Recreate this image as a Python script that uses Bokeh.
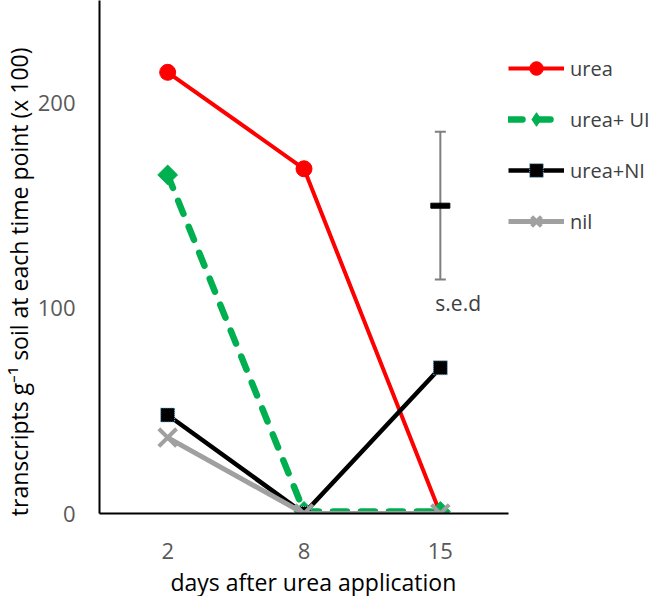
import math
from bokeh.plotting import figure
from bokeh.models import FactorRange, Range1d, FixedTicker, Legend, LegendItem, Title
from bokeh.core.properties import value
from bokeh.embed import file_html
from bokeh.resources import INLINE

# ---- data ----
days = ["2", "8", "15"]
urea = [215, 168, 0]
urea_ui = [165, 1, 1]
urea_ni = [48, 0, 71]
nil = [37, 0, 0]
series_names = ["urea", "urea+ UI", "urea+NI", "nil"]
sed_day = ["15"]
sed_mean = [150]
sed_half = [36]
y_ticks = [0, 100, 200]

FONT = "Open Sans"
RED, GREEN, BLACK, GREY = "#FF0000", "#00B050", "#000000", "#A0A0A0"

p = figure(x_range=FactorRange(factors=days), y_range=Range1d(0, 250),
           frame_width=409, frame_height=513,
           min_border_left=99, min_border_right=144, min_border_top=0, min_border_bottom=83,
           output_backend="svg", toolbar_location=None)
p.outline_line_color = None
p.xgrid.visible = False
p.ygrid.visible = False
p.background_fill_color = "white"
p.border_fill_color = "white"

for ax in (p.xaxis, p.yaxis):
    ax.axis_line_color = "black"
    ax.axis_line_width = 2
    ax.major_tick_line_color = None
    ax.minor_tick_line_color = None
    ax.major_tick_in = 0
    ax.major_tick_out = 0
    ax.minor_tick_in = 0
    ax.minor_tick_out = 0
    ax.major_label_text_font = FONT
    ax.major_label_text_font_size = "22px"
    ax.major_label_text_color = "#595959"

p.yaxis.ticker = FixedTicker(ticks=y_ticks)
p.yaxis.major_label_standoff = 24
p.xaxis.major_label_standoff = 29

# ---- series ----
r_urea_l = p.line(days, urea, line_color=RED, line_width=4)
r_urea_m = p.scatter(days, urea, marker="circle", size=16, fill_color=RED, line_color=RED)

r_ui_l = p.line(days, urea_ui, line_color=GREEN, line_width=6.5, line_dash="14 14", line_cap="round")
# diamond glyph used for the legend icon (drawn beneath the larger rotated square)
r_ui_leg = p.scatter(days, urea_ui, marker="diamond", size=14, fill_color=GREEN, line_color=GREEN)
r_ui_m = p.scatter(days, urea_ui, marker="square", angle=math.pi / 4, size=14,
                   fill_color=GREEN, line_color=GREEN)

r_ni_l = p.line(days, urea_ni, line_color=BLACK, line_width=4.5)
r_ni_m = p.scatter(days, urea_ni, marker="square", size=14, fill_color=BLACK,
                   line_color="#6FB7D8", line_width=1, line_dash="1 1")

r_nil_l = p.line(days, nil, line_color=GREY, line_width=5)
r_nil_m = p.scatter(days, nil, marker="x", size=25, line_color=GREY, line_width=4)

# ---- s.e.d. bar ----
sed_top = [m + h for m, h in zip(sed_mean, sed_half)]
sed_bot = [m - h for m, h in zip(sed_mean, sed_half)]
p.segment(x0=sed_day, y0=sed_bot, x1=sed_day, y1=sed_top, line_color="#7F7F7F", line_width=2)
p.scatter(sed_day, sed_top, marker="dash", size=11, line_color="#7F7F7F", line_width=2)
p.scatter(sed_day, sed_bot, marker="dash", size=11, line_color="#7F7F7F", line_width=2)
p.rect(x=sed_day, y=sed_mean, width=19, height=5, width_units="screen", height_units="screen",
       fill_color="black", line_color="black")
p.text(x=sed_day, y=sed_bot, text=["s.e.d"], x_offset=-5, y_offset=23,
       text_align="left", text_baseline="alphabetic",
       text_font=value(FONT), text_font_size="21px", text_color="#404040")

# ---- legend ----
legend = Legend(items=[
    LegendItem(label=series_names[0], renderers=[r_urea_l, r_urea_m]),
    LegendItem(label=series_names[1], renderers=[r_ui_l, r_ui_leg]),
    LegendItem(label=series_names[2], renderers=[r_ni_l, r_ni_m]),
    LegendItem(label=series_names[3], renderers=[r_nil_l, r_nil_m]),
], location=(0, 275))
legend.glyph_width = 56
legend.glyph_height = 34
legend.label_height = 34
legend.spacing = 17
legend.padding = 0
legend.margin = 0
legend.label_standoff = 6
legend.border_line_color = None
legend.background_fill_alpha = 0
legend.label_text_font = FONT
legend.label_text_font_size = "20px"
legend.label_text_color = "#404040"
p.add_layout(legend, "right")

# ---- axis titles ----
ytitle = Title(text="transcripts g\u207b\u00b9 soil at each time point (x 100)",
               align="right", offset=47, standoff=0,
               text_font=FONT, text_font_size="23px", text_font_style="normal",
               text_color="black")
p.add_layout(ytitle, "left")
xtitle = Title(text="days after urea application", align="left", offset=71, standoff=4,
               text_font=FONT, text_font_size="23px", text_font_style="normal",
               text_color="black")
p.add_layout(xtitle, "below")

open("out.html", "w").write(file_html(p, INLINE))
